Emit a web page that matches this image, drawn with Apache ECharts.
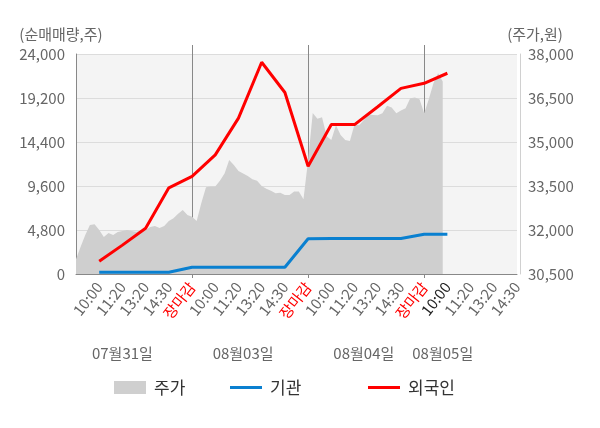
<!DOCTYPE html>
<html>
<head>
<meta charset="utf-8">
<script src="https://cdn.jsdelivr.net/npm/echarts@6/dist/echarts.min.js"></script>
<style>
    html, body { margin: 0; padding: 0; background: #fff; }
    #chart { width: 600px; height: 428px; }
</style>
</head>
<body>
<div id="chart"></div>
<script>
// 시간 구간 (첫 칸은 전일 자리, 라벨 없음)
let times = ['', '10:00', '11:20', '13:20', '14:30', '장마감',
    '10:00', '11:20', '13:20', '14:30', '장마감',
    '10:00', '11:20', '13:20', '14:30', '장마감',
    '10:00', '11:20', '13:20', '14:30'];

// 외국인 / 기관 누적 순매매량 (주)
let foreign = [null, 1400, 3150, 5000, 9400, 10650, 13000, 17000, 23100, 19800, 11750,
    16300, 16300, 18250, 20250, 20800, 21900];
let inst = [null, 200, 200, 200, 200, 730, 730, 730, 730, 730, 3850,
    3870, 3870, 3870, 3870, 4330, 4330];

// 주가 (원), 한 구간을 5칸으로 나눈 값
let price = [
    31000, 31430, 31830, 32170, 32200, 32000, 31760, 31900, 31830, 31930,
    31970, 32000, 31970, 31940, 31980, 32000, 32100, 32140, 32070, 32140,
    32310, 32400, 32550, 32680, 32510, 32450, 32310, 32920, 33460, 33480,
    33480, 33680, 33930, 34390, 34220, 34010, 33930, 33840, 33730, 33680,
    33500, 33410, 33340, 33250, 33270, 33190, 33190, 33310, 33310, 33050,
    34390, 35990, 35790, 35840, 35200, 35070, 35570, 35240, 35070, 35030,
    35600, 35570, 35750, 35950, 35920, 35910, 35980, 36240, 36180, 35980,
    36070, 36150, 36490, 36520, 36460, 35980, 36460, 37000, 37340, 37060
];

let dateLabels = ['07월31일', '08월03일', '08월04일', '08월05일'];
let dateSlots = [10, 36, 62, 79];

let slotsPerStep = 5;
let slots = [];
for (let i = 0; i < (times.length - 1) * slotsPerStep + 1; i++) {
    slots.push(i);
}

let font = 'Noto Sans CJK KR';
let myChart = echarts.init(document.getElementById('chart'));

// 장 구분선 위치
function isDayEdge(index) {
    return index % 5 === 0 && index > 0 && index < times.length - 1;
}

// 범례 하나씩 따로 (간격이 일정하지 않아서)
function legendItem(name, left, height) {
    return {
        left: left,
        top: 379,
        padding: 0,
        itemWidth: 32,
        itemHeight: height,
        icon: 'rect',
        selectedMode: false,
        textStyle: { fontSize: 17, color: '#333', fontFamily: font, padding: [0, 0, 0, 3] },
        data: [name]
    };
}

let option = {
    animation: false,
    textStyle: { fontFamily: font },
    grid: {
        left: 76,
        right: 83,
        top: 54,
        bottom: 154,
        show: true,
        backgroundColor: '#f4f4f4',
        borderWidth: 0
    },
    legend: [
        legendItem('주가', 114, 13),
        legendItem('기관', 230, 3),
        legendItem('외국인', 368, 3)
    ],
    xAxis: [{
        type: 'category',
        data: times,
        boundaryGap: false,
        axisLine: { lineStyle: { color: '#888', width: 1 } },
        axisTick: {
            interval: function (index) { return index % 5 === 0 && index > 0; },
            length: 4,
            lineStyle: { color: '#888' }
        },
        splitLine: {
            show: true,
            interval: isDayEdge,
            lineStyle: { color: '#888', width: 1 }
        },
        axisLabel: {
            interval: 0,
            rotate: 52,
            margin: 10,
            fontSize: 15,
            color: '#666',
            formatter: function (value, index) {
                if (value === '장마감') return '{r|' + value + '}';
                if (index === 16) return '{b|' + value + '}';
                return value;
            },
            rich: {
                r: { color: '#ff0000', fontSize: 15 },
                b: { color: '#222', fontSize: 15 }
            }
        }
    }, {
        type: 'category',
        data: slots,
        boundaryGap: false,
        position: 'bottom',
        offset: 64,
        axisLine: { show: false },
        axisTick: { show: false },
        splitLine: { show: false },
        axisLabel: {
            interval: function (index) { return dateSlots.indexOf(index) >= 0; },
            fontSize: 15,
            color: '#666',
            formatter: function (value) {
                let i = dateSlots.indexOf(Number(value));
                return i >= 0 ? dateLabels[i] : '';
            }
        }
    }, {
        // 구분선이 위로 조금 튀어나오게
        type: 'category',
        data: times,
        boundaryGap: false,
        position: 'top',
        axisLine: { show: false },
        axisTick: {
            show: true,
            interval: isDayEdge,
            length: 9,
            lineStyle: { color: '#888' }
        },
        axisLabel: { show: false },
        splitLine: { show: false }
    }],
    yAxis: [{
        type: 'value',
        min: 0,
        max: 24000,
        interval: 4800,
        name: '(순매매량,주)',
        nameLocation: 'end',
        nameGap: 12,
        nameTextStyle: { color: '#666', fontSize: 15, align: 'center', padding: [0, 30, 0, 0] },
        axisLine: { show: true, lineStyle: { color: '#888' } },
        axisTick: { show: false },
        axisLabel: {
            color: '#666',
            fontSize: 15,
            margin: 11,
            formatter: function (v) { return v.toLocaleString('en-US'); }
        },
        splitLine: { lineStyle: { color: '#dcdcdc' } }
    }, {
        type: 'value',
        min: 30500,
        max: 38000,
        interval: 1500,
        position: 'right',
        offset: 3,
        name: '(주가,원)',
        nameLocation: 'end',
        nameGap: 12,
        nameTextStyle: { color: '#666', fontSize: 15, align: 'center', padding: [0, 0, 0, 30] },
        axisLine: { show: true, lineStyle: { color: '#d0d0d0' } },
        axisTick: { show: false },
        axisLabel: {
            color: '#666',
            fontSize: 15,
            margin: 8,
            formatter: function (v) { return v.toLocaleString('en-US'); }
        },
        splitLine: { show: false }
    }],
    series: [{
        name: '주가',
        type: 'line',
        xAxisIndex: 1,
        yAxisIndex: 1,
        data: price,
        symbol: 'none',
        color: '#cfcfcf',
        lineStyle: { width: 0 },
        areaStyle: { color: '#cfcfcf', opacity: 1, origin: 'start' },
        z: 1
    }, {
        name: '기관',
        type: 'line',
        data: inst,
        symbol: 'none',
        color: '#0a80d0',
        lineStyle: { color: '#0a80d0', width: 3 },
        z: 3
    }, {
        name: '외국인',
        type: 'line',
        data: foreign,
        symbol: 'none',
        color: '#ff0000',
        lineStyle: { color: '#ff0000', width: 3 },
        z: 4
    }]
};

myChart.setOption(option);
</script>
</body>
</html>
